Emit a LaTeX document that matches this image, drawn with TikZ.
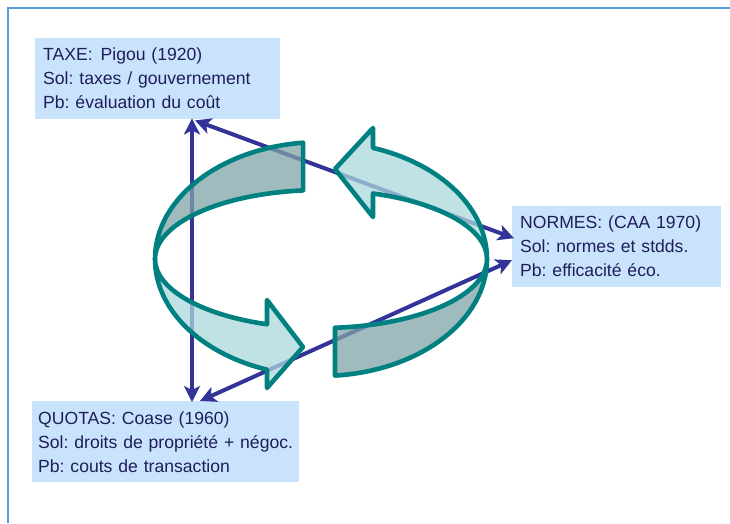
\documentclass[tikz,border=0pt]{standalone}
\usepackage{fontspec}
\setmainfont{Liberation Sans}
\usetikzlibrary{arrows.meta,calc}
\definecolor{boxblue}{RGB}{202,227,252}
\definecolor{navytext}{RGB}{30,30,90}
\definecolor{conncol}{RGB}{51,51,153}
\definecolor{ribbonline}{RGB}{0,128,128}
\definecolor{lightf}{RGB}{171,216,219}
\definecolor{darkf}{RGB}{128,164,167}
\definecolor{framec}{RGB}{91,155,213}
\newcommand{\boxfont}{\fontsize{17.6pt}{24pt}\selectfont\frenchspacing\hyphenpenalty=10000\relax}
\tikzset{
  infobox/.style={fill=boxblue, text=navytext, font=\boxfont,
    align=left, inner ysep=0pt, anchor=north west, minimum height=81pt},
  conn/.style={draw=conncol, line width=4pt,
    {Stealth[length=16pt,width=16pt,inset=4pt]}-{Stealth[length=16pt,width=16pt,inset=4pt]}},
  ribbonlight/.style={fill=lightf, fill opacity=0.75, draw=ribbonline, draw opacity=1, line width=4.6pt, line join=round},
  ribbondark/.style={fill=darkf, fill opacity=0.75, draw=ribbonline, draw opacity=1, line width=4.6pt, line join=round}
}
\begin{document}
\begin{tikzpicture}[x=1pt,y=1pt]
\useasboundingbox (0,0) rectangle (730,-523);
% frame
\draw[framec, line width=2pt] (8,-523) -- (8,-7.5) -- (731,-7.5);
% boxes
\node[infobox, inner xsep=8pt, text width=229pt] (taxe) at (35,-38)
  {TAXE:\hspace{2pt} Pigou (1920)\\Sol: taxes / gouvernement\\Pb: évaluation du coût};
\node[infobox, inner xsep=8pt, text width=193pt] (normes) at (512,-206)
  {NORMES: (CAA 1970)\\Sol: normes et stdds.\\Pb: efficacité éco.};
\node[infobox, inner xsep=4pt, text width=259pt] (quotas) at (32,-401)
  {\hspace*{2pt}QUOTAS: Coase (1960)\\\hspace*{2pt}Sol: droits de propriété + négoc.\\\hspace*{2pt}Pb: couts de transaction};
% connectors
\draw[conn] ($(taxe.south west)+(157,1)$) -- ($(quotas.north west)+(160,-1)$);
\draw[conn] ($(taxe.south west)+(160,-1)$) -- ($(normes.west)+(2,8.5)$);
\draw[conn] ($(quotas.north west)+(168,0)$) -- ($(normes.west)+(0,-13.5)$);
% circular ribbon arrows
\def\cx{321}\def\cy{-259}
% arrow 1, back (dark)
\path[ribbondark] (\cx,\cy) ++(96.2:166pt and 117pt)
  arc[start angle=96.2,end angle=180,x radius=166pt,y radius=117pt]
  arc[start angle=180,end angle=96.2,x radius=166pt,y radius=69pt] -- cycle;
% arrow 2, back (light)
\path[ribbonlight] (\cx,\cy) ++(0:166pt and 117pt)
  arc[start angle=0,end angle=71.75,x radius=166pt,y radius=117pt]
  -- (373,-128) -- (335,-169) -- (373,-217)
  -- ($(\cx,\cy)+(71.75:166pt and 69pt)$)
  arc[start angle=71.75,end angle=0,x radius=166pt,y radius=69pt] -- cycle;
% arrow 1, front (light)
\path[ribbonlight] (\cx,\cy) ++(180:166pt and 117pt)
  arc[start angle=180,end angle=251,x radius=166pt,y radius=117pt]
  -- (266.96,-388) -- (303,-347) -- (266.96,-300)
  -- ($(\cx,\cy)+(251:166pt and 69pt)$)
  arc[start angle=251,end angle=180,x radius=166pt,y radius=69pt] -- cycle;
% arrow 2, front (dark)
\path[ribbondark] (\cx,\cy) ++(274.84:166pt and 117pt)
  arc[start angle=274.84,end angle=360,x radius=166pt,y radius=117pt]
  arc[start angle=0,end angle=-85.16,x radius=166pt,y radius=69pt] -- cycle;
\end{tikzpicture}
\end{document}
